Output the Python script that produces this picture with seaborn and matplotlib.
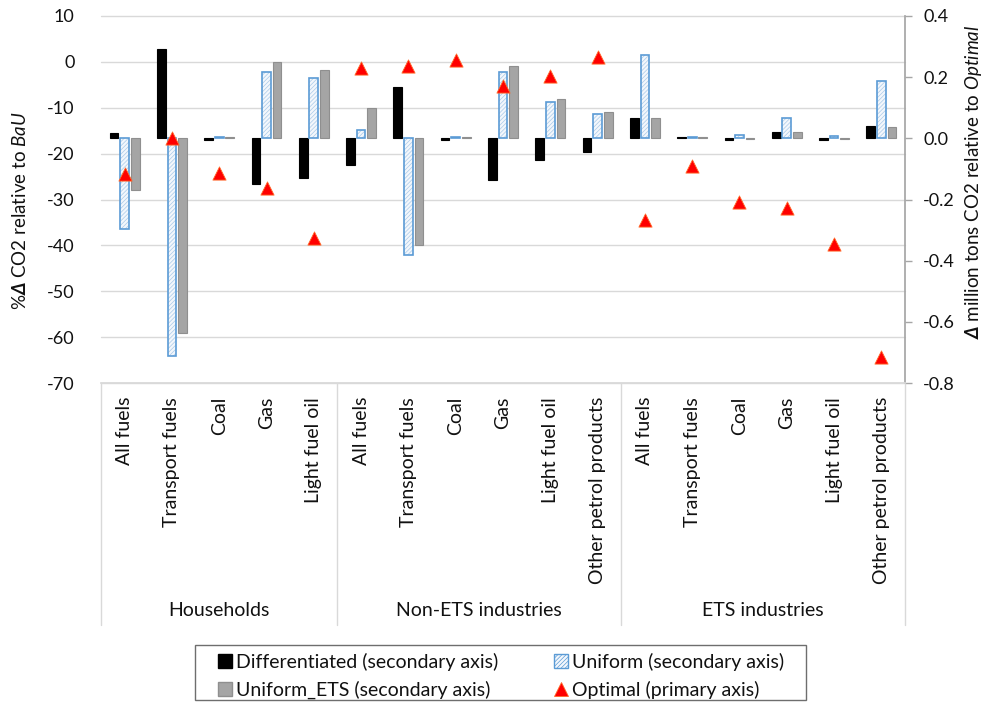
import numpy as np
import pandas as pd
import matplotlib
matplotlib.use("Agg")
import matplotlib.pyplot as plt
from matplotlib.patches import Patch, Rectangle
from matplotlib.lines import Line2D
from matplotlib.ticker import FormatStrFormatter
from matplotlib.transforms import blended_transform_factory
from matplotlib.colors import to_rgba
import seaborn as sns

# ---- data -------------------------------------------------------------
groups = ["Households", "Non-ETS industries", "ETS industries"]
households_fuels = ["All fuels", "Transport fuels", "Coal", "Gas", "Light fuel oil"]
non_ets_fuels = ["All fuels", "Transport fuels", "Coal", "Gas", "Light fuel oil",
                 "Other petrol products"]
ets_fuels = ["All fuels", "Transport fuels", "Coal", "Gas", "Light fuel oil",
             "Other petrol products"]

# million tons CO2 relative to Optimal (secondary axis)
differentiated = [0.017, 0.291, -0.004, -0.149, -0.129,
                  -0.087, 0.168, -0.004, -0.137, -0.072, -0.046,
                  0.067, 0.004, -0.004, 0.020, -0.004, 0.040]
uniform = [-0.298, -0.712, 0.003, 0.217, 0.198,
           0.027, -0.383, 0.004, 0.217, 0.118, 0.079,
           0.273, 0.004, 0.012, 0.067, 0.008, 0.188]
uniform_ets = [-0.169, -0.638, 0.004, 0.248, 0.223,
               0.100, -0.349, 0.005, 0.235, 0.129, 0.085,
               0.067, 0.003, -0.003, 0.022, -0.003, 0.038]

# % change in CO2 relative to BaU (primary axis)
optimal = [-24.5, -16.7, -24.3, -27.4, -38.3,
           -1.3, -0.8, 0.3, -5.2, -3.0, 1.1,
           -34.5, -22.8, -30.5, -31.9, -39.7, -64.3]

left_ticks = [-70, -60, -50, -40, -30, -20, -10, 0, 10]
right_ticks = [-0.8, -0.6, -0.4, -0.2, 0.0, 0.2, 0.4]

series_names = ["Differentiated (secondary axis)", "Uniform (secondary axis)",
                "Uniform_ETS (secondary axis)"]
optimal_name = "Optimal (primary axis)"

# ---- style ------------------------------------------------------------
sns.set_theme(style="white")
plt.rcParams["font.family"] = ["Lato", "DejaVu Sans"]
plt.rcParams["axes.unicode_minus"] = False
plt.rcParams["mathtext.fontset"] = "custom"
plt.rcParams["mathtext.rm"] = "Lato"
plt.rcParams["mathtext.it"] = "Lato:italic"
plt.rcParams["mathtext.bf"] = "Lato:bold:italic"
plt.rcParams["hatch.linewidth"] = 0.5

TEXT = "#111111"
GRID = "#D9D9D9"
HATCH = "////////"

fuel_groups = [households_fuels, non_ets_fuels, ets_fuels]
slots = [f"{g}|{f}" for g, fuels in zip(groups, fuel_groups) for f in fuels]
fuel_labels = [f for fuels in fuel_groups for f in fuels]
n = len(slots)

bars_long = pd.DataFrame({
    "slot": np.tile(slots, 3),
    "series": np.repeat(series_names, n),
    "value": np.concatenate([differentiated, uniform, uniform_ets]),
})
opt_df = pd.DataFrame({"slot": slots, "optimal": optimal})

fig = plt.figure(figsize=(9.94, 7.11), dpi=100)
ax = fig.add_axes([101 / 994, 1 - 383 / 711, 804 / 994, 367 / 711])
ax2 = ax.twinx()
ax2.set_position(ax.get_position())

# bars on the secondary (million tons) scale
sns.barplot(data=bars_long, x="slot", y="value", hue="series", order=slots,
            hue_order=series_names,
            palette=["#000000", "#F3F7FC", "#A5A5A5"],
            width=0.672, gap=0.18, saturation=1, errorbar=None,
            legend=False, ax=ax, zorder=2)

for bar in ax.containers[0]:
    bar.set_edgecolor("#000000")
    bar.set_linewidth(0.8)
for bar in ax.containers[1]:
    bar.set_facecolor("#F3F7FC")
    bar.set_edgecolor("#5B9BD5")
    bar.set_linewidth(1.2)
    bar.set_hatch(HATCH)
    if hasattr(bar, "set_hatchcolor"):
        bar.set_hatchcolor("#A9C9E8")
    else:
        bar._hatch_color = to_rgba("#A9C9E8")
for bar in ax.containers[2]:
    bar.set_edgecolor("#8F8F8F")
    bar.set_linewidth(0.8)

# triangles on the primary (%) scale
sns.stripplot(data=opt_df, x="slot", y="optimal", order=slots, jitter=False,
              marker="^", size=9.5, color="#FF0000", edgecolor="#FF6A2A",
              linewidth=0.6, ax=ax2, zorder=5)

ax.set_xlim(-0.5, n - 0.5)
ax.set_ylim(right_ticks[0], right_ticks[-1])
ax2.set_ylim(left_ticks[0], left_ticks[-1])

# secondary scale on the right, primary scale on the left
ax.yaxis.tick_right()
ax.yaxis.set_label_position("right")
ax2.yaxis.tick_left()
ax2.yaxis.set_label_position("left")

ax.set_yticks(right_ticks)
ax.yaxis.set_major_formatter(FormatStrFormatter("%.1f"))
ax.tick_params(axis="y", which="both", right=True, left=False, direction="out",
               length=5, width=1, color="#A6A6A6", pad=8, labelsize=13,
               labelcolor=TEXT)
ax2.set_yticks(left_ticks)
ax2.set_yticklabels([str(t) for t in left_ticks])
ax2.tick_params(axis="y", which="both", left=True, right=False, length=0,
                pad=19, labelsize=13, labelcolor=TEXT)

ax.set_xticks(range(n))
ax.set_xticklabels(fuel_labels, rotation=90, ha="center", va="top")
ax.tick_params(axis="x", length=0, pad=10, labelsize=14, labelcolor=TEXT)
ax.set_xlabel("")
ax.set_ylabel("")
ax2.set_xlabel("")
ax2.set_ylabel("")

for side in ["left", "top"]:
    ax.spines[side].set_visible(False)
ax.spines["right"].set_color("#A6A6A6")
ax.spines["bottom"].set_color(GRID)
for side in ax2.spines:
    ax2.spines[side].set_visible(False)

# horizontal gridlines at the primary-axis ticks, kept behind the bars
grid_trans = blended_transform_factory(ax.transAxes, ax2.transData)
for v in left_ticks:
    ax.plot([0, 1], [v, v], transform=grid_trans, color=GRID, lw=1,
            zorder=0.5, clip_on=False)

# grouped category axis: dividers and group names
sizes = [len(f) for f in fuel_groups]
edges = np.concatenate([[0], np.cumsum(sizes)]) - 0.5
div_trans = blended_transform_factory(ax.transData, ax.transAxes)
for e in edges:
    ax.plot([e, e], [0, -0.66], transform=div_trans, color=GRID, lw=1,
            clip_on=False)
for g, lo, hi in zip(groups, edges[:-1], edges[1:]):
    ax.text((lo + hi) / 2, -0.621, g, transform=div_trans, ha="center",
            va="center", fontsize=14, color=TEXT)

# axis titles
fig.text(20 / 994, 1 - 211 / 711, r"%$\mathbf{\Delta}$ CO2 relative to $\mathit{BaU}$",
         rotation=90, ha="center", va="center", fontsize=13.5, color=TEXT)
fig.text(974 / 994, 1 - 182 / 711,
         r"$\mathbf{\Delta}$ million tons CO2 relative to $\mathit{Optimal}$",
         rotation=90, ha="center", va="center", fontsize=13.5, color=TEXT)

# legend
uniform_handle = Patch(facecolor="#F3F7FC", edgecolor="#5B9BD5", hatch=HATCH,
                       linewidth=1.0)
handles = [Patch(facecolor="#000000", edgecolor="#000000"),
           Patch(facecolor="#A5A5A5", edgecolor="#8F8F8F"),
           uniform_handle,
           Line2D([], [], marker="^", linestyle="none", markersize=10,
                  markerfacecolor="#FF0000", markeredgecolor="#FF6A2A",
                  markeredgewidth=0.6)]
labels = [series_names[0], series_names[2], series_names[1], optimal_name]
fig.legend(handles, labels, loc="center", bbox_to_anchor=(501 / 994, 1 - 676 / 711),
           ncol=2, frameon=False, fontsize=14, handlelength=0.7, handleheight=0.7,
           handletextpad=0.2, columnspacing=2.9, labelspacing=0.5,
           borderpad=0.2, labelcolor=TEXT)
fig.patches.append(Rectangle((195 / 994, 1 - 700 / 711), 611 / 994, 55 / 711,
                             transform=fig.transFigure, fill=False,
                             edgecolor="#6E6E6E", lw=1))

fig.savefig("out.png", dpi=100)
